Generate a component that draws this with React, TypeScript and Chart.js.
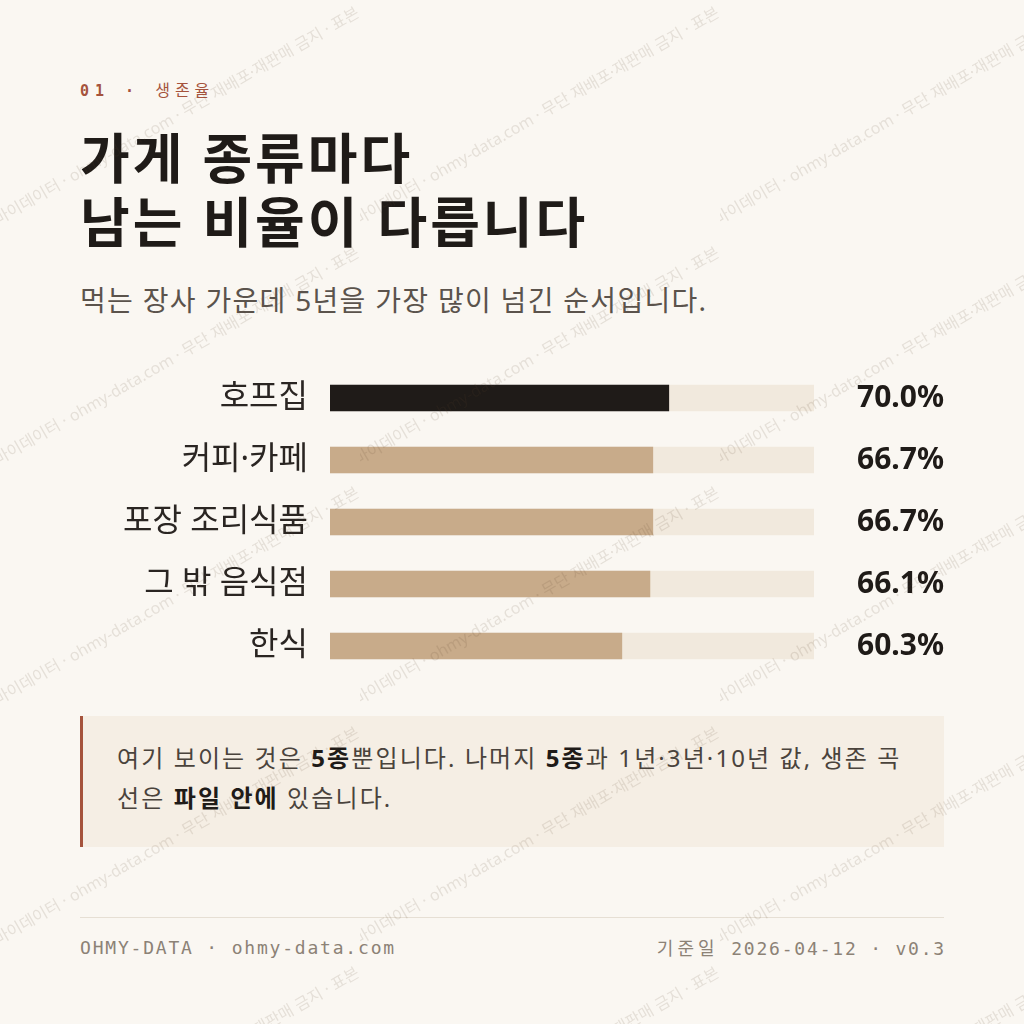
import { useEffect, useRef } from 'react';
import { Chart, registerables } from 'chart.js';

Chart.register(...registerables);

// 5년 생존율 (%), 먹는 장사 상위 5종
const categories = ['호프집', '커피·카페', '포장 조리식품', '그 밖 음식점', '한식'];
const survival5y = [70.0, 66.7, 66.7, 66.1, 60.3];
const valueLabels = ['70.0%', '66.7%', '66.7%', '66.1%', '60.3%'];
const trackFull = [100, 100, 100, 100, 100];

const INK = '#1f1b18';
const TAN = '#c8ab8a';
const TRACK = '#f1e9dd';
const BG = '#faf7f2';
const RUST = '#a5533c';
// Latin glyphs (middle dots, digits, spaces) from Noto Sans, Hangul from CJK
const SANS = "'Noto Sans', 'Noto Sans CJK KR', sans-serif";
const MONO = "'DejaVu Sans Mono', 'Liberation Mono', monospace";

const WATERMARK = '마이데이터 · ohmy-data.com · 무단 재배포·재판매 금지 · 표본';

function SurvivalBars() {
  const canvasRef = useRef<HTMLCanvasElement>(null);

  useEffect(() => {
    if (!canvasRef.current) return;
    const chart = new Chart(canvasRef.current, {
      type: 'bar',
      data: {
        labels: categories,
        datasets: [
          {
            label: '5년 생존율',
            data: survival5y,
            backgroundColor: survival5y.map((_, i) => (i === 0 ? INK : TAN)),
            barThickness: 26,
            grouped: false,
            order: 0,
            borderWidth: 0,
          },
          {
            label: 'track',
            data: trackFull,
            backgroundColor: TRACK,
            barThickness: 26,
            grouped: false,
            order: 1,
            borderWidth: 0,
          },
        ],
      },
      options: {
        indexAxis: 'y',
        animation: false,
        responsive: true,
        maintainAspectRatio: false,
        layout: { padding: 0 },
        plugins: { legend: { display: false }, tooltip: { enabled: false } },
        scales: {
          x: { display: false, min: 0, max: 100 },
          y: {
            position: 'left',
            grid: { display: false, drawTicks: false },
            border: { display: false },
            ticks: { color: '#2a2522', padding: 22, font: { family: SANS, size: 32 } },
            afterFit: (s: any) => {
              s.width = 250;
              s.paddingTop = 0;
              s.paddingBottom = 0;
            },
          },
          yValue: {
            type: 'category',
            labels: valueLabels,
            position: 'right',
            offset: true,
            grid: { display: false, drawTicks: false },
            border: { display: false },
            ticks: { color: INK, crossAlign: 'far', font: { family: SANS, size: 30, weight: 'bold' } },
            afterFit: (s: any) => {
              s.width = 130;
              s.paddingTop = 0;
              s.paddingBottom = 0;
            },
          },
        },
      },
    });
    return () => chart.destroy();
  }, []);

  return (
    <div style={{ position: 'absolute', left: 80, top: 367, width: 864, height: 310 }}>
      <canvas ref={canvasRef}></canvas>
    </div>
  );
}

function Watermark() {
  const tiles = [];
  for (let r = 0; r < 5; r++) {
    for (let c = 0; c < 3; c++) {
      tiles.push(
        <div
          key={r + '-' + c}
          style={{ position: 'absolute', left: c * 360, top: r * 240, width: 360, height: 240, overflow: 'hidden' }}
        >
          <span
            style={{
              position: 'absolute',
              left: -1,
              top: 211,
              fontSize: 16,
              lineHeight: '16px',
              whiteSpace: 'nowrap',
              color: 'rgba(90, 70, 50, 0.13)',
              transform: 'rotate(-30deg)',
              transformOrigin: '0 100%',
            }}
          >
            {WATERMARK}
          </span>
        </div>
      );
    }
  }
  return (
    <div style={{ position: 'absolute', left: 0, top: 0, width: 1024, height: 1024, overflow: 'hidden', pointerEvents: 'none', fontFamily: SANS }}>
      {tiles}
    </div>
  );
}

export default function App() {
  return (
    <div style={{ position: 'absolute', left: 0, top: 0, width: 1024, height: 1024, background: BG, overflow: 'hidden', fontFamily: SANS }}>
      <div style={{ position: 'absolute', left: 80, top: 79, fontFamily: MONO, fontSize: 15, lineHeight: '22px', letterSpacing: 6, color: RUST, whiteSpace: 'nowrap' }}>
        <span style={{ fontWeight: 700 }}>01 · </span>
        <span style={{ fontFamily: SANS, fontSize: 16, letterSpacing: 5 }}>생존율</span>
      </div>

      <div style={{ position: 'absolute', left: 80, top: 126, fontSize: 54, lineHeight: '64px', fontWeight: 700, color: INK, letterSpacing: 3, whiteSpace: 'nowrap' }}>
        가게 종류마다
        <br />
        남는 비율이 다릅니다
      </div>

      <div style={{ position: 'absolute', left: 80, top: 282, fontSize: 28, lineHeight: '36px', color: '#5b534c', letterSpacing: 1.3, whiteSpace: 'nowrap' }}>
        먹는 장사 가운데 5년을 가장 많이 넘긴 순서입니다.
      </div>

      <SurvivalBars />

      <div
        style={{
          position: 'absolute',
          left: 80,
          top: 716,
          width: 864,
          height: 131,
          boxSizing: 'border-box',
          background: '#f5eee4',
          borderLeft: '3px solid ' + RUST,
          padding: '22px 30px 0 34px',
          fontSize: 24,
          lineHeight: '40px',
          letterSpacing: 2.1,
          color: '#4a433c',
          whiteSpace: 'nowrap',
        }}
      >
        여기 보이는 것은 <b style={{ color: INK }}>5종</b>뿐입니다. 나머지 <b style={{ color: INK }}>5종</b>과 1년·3년·10년 값, 생존 곡
        <br />
        선은 <b style={{ color: INK }}>파일 안에</b> 있습니다.
      </div>

      <div style={{ position: 'absolute', left: 80, top: 917, width: 864, height: 1, background: '#e6dfd4' }} />

      <div style={{ position: 'absolute', left: 80, top: 936, fontFamily: MONO, fontSize: 18, lineHeight: '24px', letterSpacing: 1.8, color: '#8c8276', whiteSpace: 'nowrap' }}>
        OHMY-DATA · ohmy-data.com
      </div>
      <div style={{ position: 'absolute', right: 78, top: 936, fontFamily: MONO, fontSize: 18, lineHeight: '24px', letterSpacing: 1.8, color: '#8c8276', whiteSpace: 'nowrap' }}>
        <span style={{ fontFamily: SANS, letterSpacing: 4 }}>기준일</span> 2026-04-12 · v0.3
      </div>

      <Watermark />
    </div>
  );
}
